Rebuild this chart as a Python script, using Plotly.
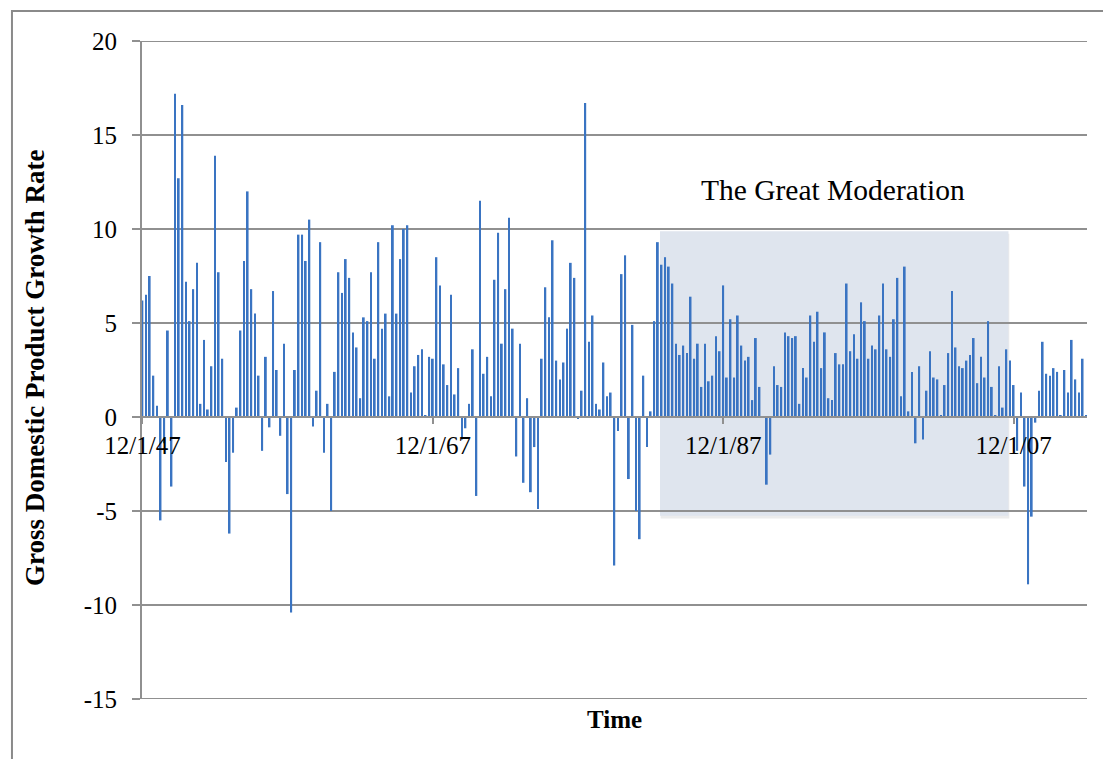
import pandas as pd
import plotly.graph_objects as go

# Quarterly real GDP growth (annualized %), 1947Q4 .. 2012Q4
start_date = "1947-12-01"
growth_1947_1955 = [6.2, 6.5, 7.5, 2.2, 0.6, -5.5, -1.4, 4.6, -3.7, 17.2, 12.7, 16.6, 7.2, 5.1, 6.8, 8.2,
                    0.7, 4.1, 0.4, 2.7, 13.9, 7.7, 3.1, -2.4, -6.2, -1.9, 0.5, 4.6, 8.3, 12.0, 6.8, 5.5, 2.2]
growth_1956_1964 = [-1.8, 3.2, -0.55, 6.7, 2.5, -1.0, 3.9, -4.1, -10.4, 2.5, 9.7, 9.7, 8.3, 10.5, -0.5, 1.4,
                    9.3, -1.9, 0.7, -5.0, 2.4, 7.7, 6.6, 8.4, 7.4, 4.5, 3.7, 1.0, 5.3, 5.1, 7.7, 3.1, 9.3]
growth_1964_1972 = [4.7, 5.5, 1.1, 10.2, 5.5, 8.4, 10.0, 10.2, 1.3, 2.7, 3.3, 3.6, 0.1, 3.2, 3.1, 8.5,
                    7.0, 2.8, 1.7, 6.5, 1.2, 2.6, -1.2, -0.6, 0.7, 3.6, -4.2, 11.5, 2.3, 3.2, 1.1, 7.3, 9.8]
growth_1972_1980 = [3.9, 6.8, 10.6, 4.7, -2.1, 3.9, -3.5, 1.0, -4.0, -1.6, -4.9, 3.1, 6.9, 5.3, 9.4, 3.0,
                    2.0, 2.9, 4.7, 8.2, 7.4, -0.1, 1.4, 16.7, 4.0, 5.4, 0.7, 0.4, 2.9, 1.1, 1.3, -7.9, -0.75]
growth_1980_1988 = [7.6, 8.6, -3.3, 4.9, -5.0, -6.5, 2.2, -1.6, 0.3, 5.1, 9.3, 8.1, 8.5, 8.0, 7.1, 3.9,
                    3.3, 3.8, 3.4, 6.4, 3.1, 3.9, 1.6, 3.9, 1.9, 2.2, 4.3, 3.5, 7.0, 2.1, 5.2, 2.1, 5.4]
growth_1989_1996 = [3.8, 3.0, 3.2, 0.9, 4.2, 1.6, 0.0, -3.6, -2.0, 2.7, 1.7, 1.6, 4.5, 4.3, 4.2, 4.3,
                    0.7, 2.6, 2.1, 5.4, 4.0, 5.6, 2.6, 4.5, 1.0, 0.9, 3.4, 2.8, 2.8, 7.1, 3.5, 4.4]
growth_1997_2005 = [3.1, 6.1, 5.1, 3.1, 3.8, 3.6, 5.4, 7.1, 3.6, 3.2, 5.2, 7.4, 1.1, 8.0, 0.3, 2.4,
                    -1.4, 2.7, -1.2, 1.4, 3.5, 2.1, 2.0, 0.1, 1.7, 3.4, 6.7, 3.7, 2.7, 2.6, 3.0, 3.3, 4.2]
growth_2005_2012 = [1.8, 3.2, 2.1, 5.1, 1.6, 0.1, 2.7, 0.5, 3.6, 3.0, 1.7, -1.8, 1.3, -3.7, -8.9, -5.3,
                    -0.3, 1.4, 4.0, 2.3, 2.2, 2.6, 2.4, 0.1, 2.5, 1.3, 4.1, 2.0, 1.3, 3.1, 0.1]

growth = (growth_1947_1955 + growth_1956_1964 + growth_1964_1972 + growth_1972_1980
          + growth_1980_1988 + growth_1989_1996 + growth_1997_2005 + growth_2005_2012)
dates = pd.date_range(start_date, periods=len(growth), freq="3MS")

tick_dates = ["1947-12-01", "1967-12-01", "1987-12-01", "2007-12-01"]
tick_labels = ["12/1/47", "12/1/67", "12/1/87", "12/1/07"]
y_ticks = [-15, -10, -5, 0, 5, 10, 15, 20]
y_tick_labels = ["-15", "-10", "-5", "0", "5", "10", "15", "20"]
y_min, y_max = -15, 20

SERIF = "Liberation Serif, Times New Roman, serif"
GRID = "#909090"
BAR = "#3a74c2"

fig = go.Figure()
fig.add_trace(go.Bar(x=dates, y=growth, marker=dict(color=BAR, line=dict(width=0)),
                     showlegend=False, hoverinfo="skip"))

fig.update_layout(
    width=1103, height=759,
    margin=dict(l=142, r=16, t=41, b=60),
    paper_bgcolor="white", plot_bgcolor="white",
    bargap=0.5,
    font=dict(family=SERIF, size=25, color="black"),
    xaxis=dict(
        type="date",
        range=["1947-11-20", "2012-12-20"],
        tickvals=tick_dates, ticktext=tick_labels,
        showgrid=False, zeroline=False,
        showline=True, linecolor=GRID, linewidth=2,
        ticks="outside", ticklen=6, tickwidth=2, tickcolor=GRID,
        anchor="free", position=15 / 35,
        tickfont=dict(family=SERIF, size=25, color="black"),
    ),
    yaxis=dict(
        range=[y_min, y_max], tickvals=y_ticks, ticktext=y_tick_labels,
        showgrid=True, gridcolor=GRID, gridwidth=2,
        zeroline=True, zerolinecolor=GRID, zerolinewidth=2,
        showline=True, linecolor=GRID, linewidth=2,
        ticks="outside", ticklen=8, tickwidth=2, tickcolor=GRID,
        ticklabelstandoff=10,
        tickfont=dict(family=SERIF, size=25, color="black"),
    ),
)

# gridlines at the top and bottom edges of the plot area
for yv in (y_min, y_max):
    fig.add_shape(type="line", xref="paper", yref="y", layer="below",
                  x0=0, x1=1, y0=yv, y1=yv, line=dict(color=GRID, width=2))

# shaded "Great Moderation" box (with soft shadow)
fig.add_shape(type="rect", xref="x", yref="y", layer="below",
              x0="1983-08-10", x1="2007-08-15", y0=-5.4, y1=9.75,
              fillcolor="#ececec", line=dict(width=0))
fig.add_shape(type="rect", xref="x", yref="y", layer="below",
              x0="1983-07-24", x1="2007-07-24", y0=-5.25, y1=9.88,
              fillcolor="#dfe5ee", line=dict(width=0))

# outer chart border
fig.add_shape(type="rect", xref="paper", yref="paper",
              x0=-0.1376, x1=1.03, y0=-0.2, y1=1.0456,
              line=dict(color="#8a8a8a", width=2), fillcolor="rgba(0,0,0,0)")

fig.add_annotation(text="The Great Moderation", xref="paper", yref="paper",
                   x=0.7312, y=0.7736, xanchor="center", yanchor="middle", showarrow=False,
                   font=dict(family=SERIF, size=29.5, color="black"))
fig.add_annotation(text="<b>Time</b>", xref="paper", yref="paper",
                   x=0.5005, y=-0.0304, xanchor="center", yanchor="middle", showarrow=False,
                   font=dict(family=SERIF, size=25, color="black"))
fig.add_annotation(text="<b>Gross Domestic Product Growth Rate</b>", xref="paper", yref="paper",
                   x=-0.1132, y=0.503, xanchor="center", yanchor="middle", showarrow=False,
                   textangle=-90,
                   font=dict(family=SERIF, size=27, color="black"))

fig.write_html("out.html", config={"displayModeBar": False},
               post_script="document.body.style.margin='0px';")
